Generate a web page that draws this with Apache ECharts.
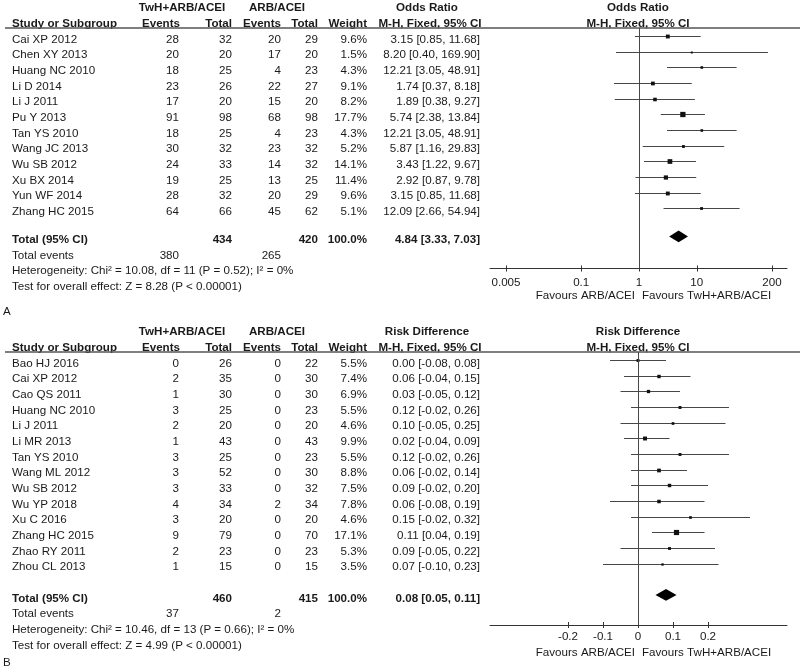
<!DOCTYPE html>
<html>
<head>
<meta charset="utf-8">
<script src="https://cdn.jsdelivr.net/npm/echarts@6/dist/echarts.min.js"></script>
<style>html,body{margin:0;padding:0;background:#fff}#main{width:800px;height:672px}</style>
</head>
<body>
<div id="main"></div>
<script>
var chartDom = document.getElementById('main');
var myChart = echarts.init(chartDom);
var option;

// panel A - odds ratio
var studyA = ['Cai XP 2012', 'Chen XY 2013', 'Huang NC 2010', 'Li D 2014', 'Li J 2011', 'Pu Y 2013',
    'Tan YS 2010', 'Wang JC 2013', 'Wu SB 2012', 'Xu BX 2014', 'Yun WF 2014', 'Zhang HC 2015'];
var evTA = [28, 20, 18, 23, 17, 91, 18, 30, 24, 19, 28, 64];
var totTA = [32, 20, 25, 26, 20, 98, 25, 32, 33, 25, 32, 66];
var evCA = [20, 17, 4, 22, 15, 68, 4, 23, 14, 13, 20, 45];
var totCA = [29, 20, 23, 27, 20, 98, 23, 32, 32, 25, 29, 62];
var weightA = [9.6, 1.5, 4.3, 9.1, 8.2, 17.7, 4.3, 5.2, 14.1, 11.4, 9.6, 5.1];
var orA = [3.15, 8.20, 12.21, 1.74, 1.89, 5.74, 12.21, 5.87, 3.43, 2.92, 3.15, 12.09];
var loA = [0.85, 0.40, 3.05, 0.37, 0.38, 2.38, 3.05, 1.16, 1.22, 0.87, 0.85, 2.66];
var hiA = [11.68, 169.90, 48.91, 8.18, 9.27, 13.84, 48.91, 29.83, 9.67, 9.78, 11.68, 54.94];
var totalA = [4.84, 3.33, 7.03];
var sumA = [380, 434, 265, 420];
var statsA = ['Heterogeneity: Chi\u00b2 = 10.08, df = 11 (P = 0.52); I\u00b2 = 0%',
    'Test for overall effect: Z = 8.28 (P < 0.00001)'];
var ticksA = [0.005, 0.1, 1, 10, 200];

// panel B - risk difference
var studyB = ['Bao HJ 2016', 'Cai XP 2012', 'Cao QS 2011', 'Huang NC 2010', 'Li J 2011', 'Li MR 2013',
    'Tan YS 2010', 'Wang ML 2012', 'Wu SB 2012', 'Wu YP 2018', 'Xu C 2016', 'Zhang HC 2015',
    'Zhao RY 2011', 'Zhou CL 2013'];
var evTB = [0, 2, 1, 3, 2, 1, 3, 3, 3, 4, 3, 9, 2, 1];
var totTB = [26, 35, 30, 25, 20, 43, 25, 52, 33, 34, 20, 79, 23, 15];
var evCB = [0, 0, 0, 0, 0, 0, 0, 0, 0, 2, 0, 0, 0, 0];
var totCB = [22, 30, 30, 23, 20, 43, 23, 30, 32, 34, 20, 70, 23, 15];
var weightB = [5.5, 7.4, 6.9, 5.5, 4.6, 9.9, 5.5, 8.8, 7.5, 7.8, 4.6, 17.1, 5.3, 3.5];
var rdB = [0.00, 0.06, 0.03, 0.12, 0.10, 0.02, 0.12, 0.06, 0.09, 0.06, 0.15, 0.11, 0.09, 0.07];
var loB = [-0.08, -0.04, -0.05, -0.02, -0.05, -0.04, -0.02, -0.02, -0.02, -0.08, -0.02, 0.04, -0.05, -0.10];
var hiB = [0.08, 0.15, 0.12, 0.26, 0.25, 0.09, 0.26, 0.14, 0.20, 0.19, 0.32, 0.19, 0.22, 0.23];
var totalB = [0.08, 0.05, 0.11];
var sumB = [37, 460, 2, 415];
var statsB = ['Heterogeneity: Chi\u00b2 = 10.46, df = 13 (P = 0.66); I\u00b2 = 0%',
    'Test for overall effect: Z = 4.99 (P < 0.00001)'];
var ticksB = [-0.2, -0.1, 0, 0.1, 0.2];

var FONT = "'Liberation Sans', Arial, sans-serif";
var FS = 11.6;
var INK = '#1a1a1a';
var LINE = '#474747';

// row of the "Total (95% CI)" line in each panel
var totalRowA = studyA.length + 0.8;
var totalRowB = studyB.length + 1;

function studyRows(est, lo, hi, w) {
    return est.map(function (e, i) { return [e, lo[i], hi[i], w[i], i]; });
}

function renderStudy(params, api) {
    var row = api.value(4);
    var a = api.coord([api.value(1), row]);
    var b = api.coord([api.value(2), row]);
    var m = api.coord([api.value(0), row]);
    var s = Math.max(2, Math.sqrt(api.value(3)) * 1.25);
    var y = Math.round(a[1]) + 0.5;
    return {
        type: 'group',
        children: [
            { type: 'line', shape: { x1: a[0], y1: y, x2: b[0], y2: y }, style: { stroke: LINE, lineWidth: 1 } },
            { type: 'rect', shape: { x: m[0] - s / 2, y: y - s / 2, width: s, height: s }, style: { fill: '#111' } }
        ]
    };
}

function renderDiamond(params, api) {
    var row = api.value(3);
    var l = api.coord([api.value(1), row]);
    var r = api.coord([api.value(2), row]);
    var c = api.coord([api.value(0), row]);
    var h = 5.8;
    return {
        type: 'polygon',
        shape: { points: [[l[0], c[1]], [c[0], c[1] - h], [r[0], c[1]], [c[0], c[1] + h]] },
        style: { fill: '#000' }
    };
}

function tickFmt(v) { return String(+(+v).toPrecision(3)); }

// two axes per panel: one with ticks below the line, one with ticks above
function xAxes(gridIndex, type, min, max, ticks, margin) {
    return [{
        gridIndex: gridIndex, type: type, min: min, max: max, position: 'bottom',
        axisLine: { show: true, onZero: false, lineStyle: { color: '#333', width: 1 } },
        axisTick: { show: true, inside: false, length: 3, customValues: ticks, lineStyle: { color: '#333' } },
        axisLabel: { show: true, customValues: ticks, formatter: tickFmt, margin: margin,
            color: INK, fontSize: FS, fontFamily: FONT },
        splitLine: { show: false }, minorTick: { show: false }
    }, {
        gridIndex: gridIndex, type: type, min: min, max: max, position: 'bottom',
        axisLine: { show: false, onZero: false },
        axisTick: { show: true, inside: true, length: 3, customValues: ticks, lineStyle: { color: '#333' } },
        axisLabel: { show: false },
        splitLine: { show: false }, minorTick: { show: false }
    }];
}

option = {
    animation: false,
    backgroundColor: '#fff',
    grid: [
        { left: 490, width: 297, top: 28, height: 240.5 },
        { left: 490, width: 297, top: 352, height: 273 }
    ],
    xAxis: xAxes(0, 'log', 0.002643, 363.5, ticksA, 8).concat(xAxes(1, 'value', -0.4229, 0.4257, ticksB, 6)),
    yAxis: [
        { gridIndex: 0, type: 'value', inverse: true, min: -0.5, max: 14.85, show: false },
        { gridIndex: 1, type: 'value', inverse: true, min: -0.5, max: 16.92, show: false }
    ],
    series: [
        {
            type: 'custom', xAxisIndex: 0, yAxisIndex: 0, renderItem: renderStudy, clip: false,
            encode: { x: [0, 1, 2], y: 4 },
            data: studyRows(orA, loA, hiA, weightA),
            markLine: { silent: true, symbol: ['none', 'none'], label: { show: false },
                lineStyle: { color: LINE, width: 1, type: 'solid' }, data: [{ xAxis: 1 }] }
        },
        {
            type: 'custom', xAxisIndex: 0, yAxisIndex: 0, renderItem: renderDiamond,
            encode: { x: [0, 1, 2], y: 3 },
            data: [totalA.concat([totalRowA])]
        },
        {
            type: 'custom', xAxisIndex: 2, yAxisIndex: 1, renderItem: renderStudy, clip: false,
            encode: { x: [0, 1, 2], y: 4 },
            data: studyRows(rdB, loB, hiB, weightB),
            markLine: { silent: true, symbol: ['none', 'none'], label: { show: false },
                lineStyle: { color: LINE, width: 1, type: 'solid' }, data: [{ xAxis: 0 }] }
        },
        {
            type: 'custom', xAxisIndex: 2, yAxisIndex: 1, renderItem: renderDiamond,
            encode: { x: [0, 1, 2], y: 3 },
            data: [totalB.concat([totalRowB])]
        }
    ]
};

option && myChart.setOption(option);

// table text, rows aligned to each panel's y axis
var g = [];
function txt(x, y, s, align, bold) {
    g.push({
        type: 'text', x: x, y: y, silent: true,
        style: { text: s, fill: INK, font: (bold ? 'bold ' : '') + FS + 'px ' + FONT,
            textAlign: align || 'left', textVerticalAlign: 'middle' }
    });
}
function ci(e, l, h) { return e.toFixed(2) + ' [' + l.toFixed(2) + ', ' + h.toFixed(2) + ']'; }

function panel(axis, title, names, evT, totT, evC, totC, w, est, lo, hi, tot, k, sums, stats, letter, letterRow) {
    function rowY(i) { return myChart.convertToPixel({ yAxisIndex: axis }, i) + 3.5; }
    var y1 = rowY(-2), y2 = rowY(-1);
    txt(182, y1, 'TwH+ARB/ACEI', 'center', true);
    txt(277, y1, 'ARB/ACEI', 'center', true);
    txt(427, y1, title, 'center', true);
    txt(638, y1, title, 'center', true);
    txt(12, y2, 'Study or Subgroup', 'left', true);
    txt(180, y2, 'Events', 'right', true);
    txt(232, y2, 'Total', 'right', true);
    txt(281, y2, 'Events', 'right', true);
    txt(318, y2, 'Total', 'right', true);
    txt(367, y2, 'Weight', 'right', true);
    txt(430, y2, 'M-H, Fixed, 95% CI', 'center', true);
    txt(638, y2, 'M-H, Fixed, 95% CI', 'center', true);
    var top = myChart.convertToPixel({ yAxisIndex: axis }, -0.5);
    g.push({ type: 'line', silent: true, shape: { x1: 5, y1: top, x2: 800, y2: top },
        style: { stroke: '#555', lineWidth: 1.6 } });

    names.forEach(function (n, i) {
        var y = rowY(i);
        txt(12, y, n);
        txt(179, y, String(evT[i]), 'right');
        txt(232, y, String(totT[i]), 'right');
        txt(281, y, String(evC[i]), 'right');
        txt(318, y, String(totC[i]), 'right');
        txt(367, y, w[i].toFixed(1) + '%', 'right');
        txt(480, y, ci(est[i], lo[i], hi[i]), 'right');
    });
    txt(12, rowY(k), 'Total (95% CI)', 'left', true);
    txt(232, rowY(k), String(sums[1]), 'right', true);
    txt(318, rowY(k), String(sums[3]), 'right', true);
    txt(367, rowY(k), '100.0%', 'right', true);
    txt(480, rowY(k), ci(tot[0], tot[1], tot[2]), 'right', true);
    txt(12, rowY(k + 1), 'Total events');
    txt(179, rowY(k + 1), String(sums[0]), 'right');
    txt(281, rowY(k + 1), String(sums[2]), 'right');
    txt(12, rowY(k + 2), stats[0]);
    txt(12, rowY(k + 3), stats[1]);
    txt(3, rowY(letterRow), letter);

    var bottom = myChart.convertToPixel({ yAxisIndex: axis }, axis === 0 ? 14.85 : 16.92);
    txt(635, bottom + 27.5, 'Favours ARB/ACEI', 'right');
    txt(642, bottom + 27.5, 'Favours TwH+ARB/ACEI', 'left');
}

panel(0, 'Odds Ratio', studyA, evTA, totTA, evCA, totCA, weightA, orA, loA, hiA, totalA, totalRowA,
    sumA, statsA, 'A', 17.4);
panel(1, 'Risk Difference', studyB, evTB, totTB, evCB, totCB, weightB, rdB, loB, hiB, totalB, totalRowB,
    sumB, statsB, 'B', 19.1);

myChart.setOption({ graphic: g });
</script>
</body>
</html>
